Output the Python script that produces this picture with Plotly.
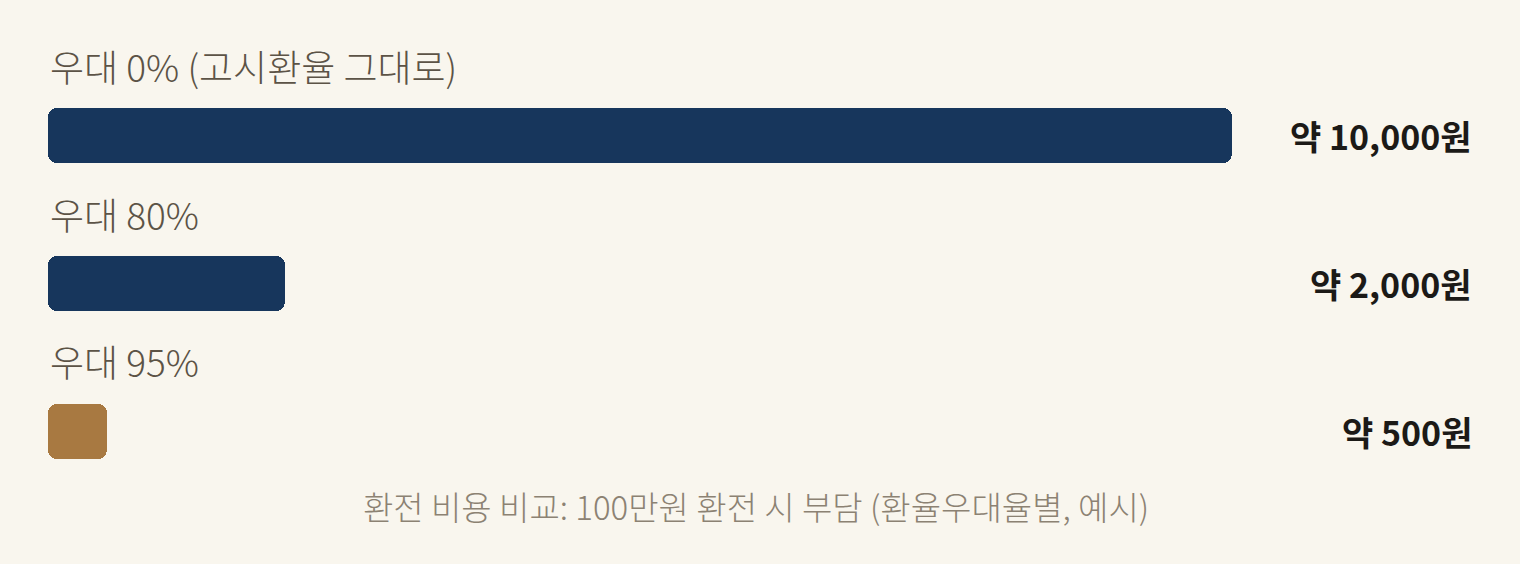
import plotly.graph_objects as go

labels = ['우대 0% (고시환율 그대로)', '우대 80%', '우대 95%']
costs = [10000, 2000, 500]
value_text = ['약 10,000원', '약 2,000원', '약 500원']
colors = ['#17365c', '#17365c', '#a87941']
caption = '환전 비용 비교: 100만원 환전 시 부담 (환율우대율별, 예시)'

font_name = 'Noto Sans CJK KR'

fig = go.Figure()
# each bar is drawn as two overlapping halves so both ends get rounded corners
fig.add_trace(go.Bar(
    x=[c * 0.6 for c in costs], base=[c * 0.4 for c in costs], y=labels,
    orientation='h', marker=dict(color=colors, cornerradius=9, line=dict(width=0)),
    width=0.372, hoverinfo='skip'))
fig.add_trace(go.Bar(
    x=[-c * 0.6 for c in costs], base=[c * 0.6 for c in costs], y=labels,
    orientation='h', marker=dict(color=colors, cornerradius=9, line=dict(width=0)),
    width=0.372, hoverinfo='skip'))

for lab, txt in zip(labels, value_text):
    # category label above the bar
    fig.add_annotation(x=0, y=lab, text=lab, showarrow=False,
                       xanchor='left', yanchor='middle', yshift=70,
                       font=dict(family=font_name, size=37, color='#5c5346', weight=300))
    # value on the right side
    fig.add_annotation(xref='paper', x=1, y=lab, text=txt, showarrow=False,
                       xanchor='right', yanchor='middle', xshift=242,
                       font=dict(family=font_name, size=34, color='#1c1a17', weight=700))

fig.add_annotation(xref='paper', yref='paper', x=0.5, y=0, text=caption,
                   showarrow=False, xanchor='center', yanchor='middle',
                   xshift=116, yshift=-1,
                   font=dict(family=font_name, size=33, color='#8c8273', weight=300))

fig.update_layout(
    width=1520, height=564,
    margin=dict(l=48, r=288, t=61.5, b=58.5),
    paper_bgcolor='#f9f6ee', plot_bgcolor='#f9f6ee',
    showlegend=False, barmode='overlay',
    xaxis=dict(range=[0, 10000], visible=False, fixedrange=True),
    yaxis=dict(range=[2.5, -0.5], visible=False, fixedrange=True),
    bargap=0)

fig.write_html('out.html', config={'displayModeBar': False},
               post_script="document.body.style.margin='0';"
                           "document.body.style.background='#f9f6ee';")
